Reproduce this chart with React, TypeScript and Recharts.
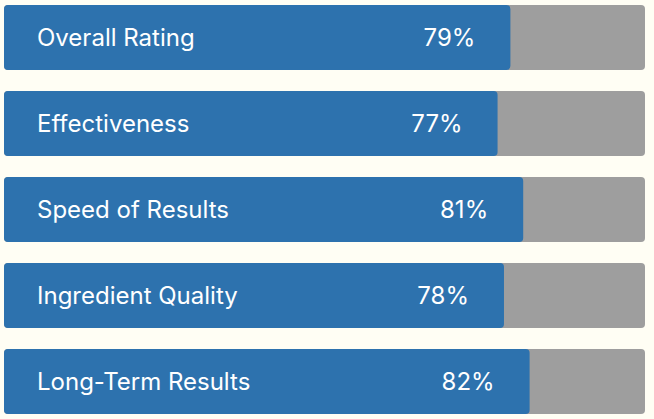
import { BarChart, Bar, XAxis, YAxis, LabelList } from 'recharts';

const categories = ['Overall Rating', 'Effectiveness', 'Speed of Results', 'Ingredient Quality', 'Long-Term Results'];
const scores = [79, 77, 81, 78, 82];

const data = categories.map((name, i) => ({ name, score: scores[i] }));

const BLUE = '#2d72ae';
const GREY = '#9e9e9e';
const FONT = 'Inter, sans-serif';

function NameLabel(props: any) {
  const { x, y, height, value } = props;
  return (
    <text
      x={x + 33}
      y={y + height / 2}
      fill="#ffffff"
      fontSize={24}
      fontFamily={FONT}
      dominantBaseline="central"
    >
      {value}
    </text>
  );
}

function ValueLabel(props: any) {
  const { x, y, width, height, value } = props;
  return (
    <text
      x={x + width - 35}
      y={y + height / 2}
      fill="#ffffff"
      fontSize={24}
      fontFamily={FONT}
      textAnchor="end"
      dominantBaseline="central"
    >
      {value}%
    </text>
  );
}

export default function App() {
  return (
    <div style={{ position: 'fixed', top: 0, left: 0, width: 654, height: 419, overflow: 'hidden', background: '#fffef4' }}>
      <div style={{ position: 'absolute', top: -6.5, left: 0 }}>
        <BarChart
          width={654}
          height={430}
          data={data}
          layout="vertical"
          margin={{ top: 0, right: 9, bottom: 0, left: 4 }}
        >
          <XAxis type="number" domain={[0, 100]} hide height={0} />
          <YAxis type="category" dataKey="name" hide width={0} />
          <Bar
            dataKey="score"
            fill={BLUE}
            barSize={65}
            radius={4}
            background={{ fill: GREY, radius: 4 }}
            isAnimationActive={false}
          >
            <LabelList dataKey="name" content={NameLabel} />
            <LabelList dataKey="score" content={ValueLabel} />
          </Bar>
        </BarChart>
      </div>
    </div>
  );
}
